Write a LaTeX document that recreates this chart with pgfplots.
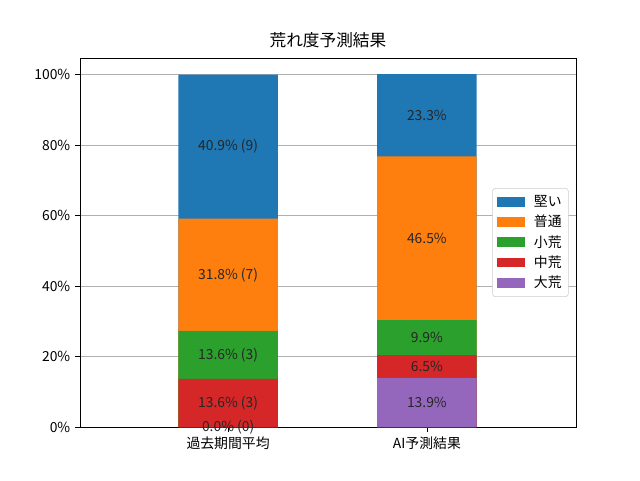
\documentclass[border=0pt]{standalone}
\usepackage{fontspec}
\setmainfont{Noto Sans CJK JP}
\usepackage{pgfplots}
\pgfplotsset{compat=1.18}
\usepackage{pgfplotstable}
\definecolor{tblue}{HTML}{1F77B4}
\definecolor{torange}{HTML}{FF7F0E}
\definecolor{tgreen}{HTML}{2CA02C}
\definecolor{tred}{HTML}{D62728}
\definecolor{tpurple}{HTML}{9467BD}
\definecolor{gridgray}{HTML}{B0B0B0}
% cumulative tops of each segment (segment values: see labels)
\pgfplotstableread{
x  katai  futsu  sho  chu  dai
0  100.0  59.09  27.27 13.64 0.0
1  100.1  76.8   30.3  20.4  13.9
}\cumdata
\pgfplotstableread{
x y label
0 79.55 {40.9\% (9)}
0 43.18 {31.8\% (7)}
0 20.45 {13.6\% (3)}
0 6.82  {13.6\% (3)}
0 0.0   {0.0\% (0)}
1 88.45 {23.3\%}
1 53.55 {46.5\%}
1 25.35 {9.9\%}
1 17.15 {6.5\%}
1 6.95  {13.9\%}
}\labeldata
\begin{document}
\fontsize{10.4}{12}\selectfont
\begin{tikzpicture}
\useasboundingbox (-60pt,-39.75pt) rectangle (420pt,320.25pt);
\begin{axis}[
  at={(0,0)}, anchor=south west,
  scale only axis, width=372pt, height=276.75pt,
  xmin=-0.745, xmax=1.75, ymin=0, ymax=104.7,
  xtick={0,1}, xticklabels={過去期間平均, AI予測結果},
  ytick={0,20,40,60,80,100},
  yticklabel={\pgfmathprintnumber{\tick}\%},
  /pgf/number format/assume math mode=true,
  tick align=outside, tick pos=left,
  major tick length=3.65pt,
  tick style={black, line width=0.6pt},
  axis line style={line width=0.6pt},
  ymajorgrids, major grid style={gridgray, line width=0.6pt},
  axis on top=false,
  title={\fontsize{12.5}{14}\selectfont 荒れ度予測結果},
  title style={yshift=-2pt},
  tick label style={font=\fontsize{10.4}{12}\selectfont},
  legend style={at={(0.985,0.5)}, anchor=east, draw=gray!40, rounded corners=2pt,
    font=\fontsize{10.4}{12}\selectfont, row sep=1pt, column sep=5pt, inner sep=3pt},
  legend cell align=left,
  legend image code/.code={\fill[#1, sharp corners] (0pt,-3.6pt) rectangle (21pt,3.6pt);},
]
\addplot[ybar, bar width=74.5pt, bar shift=0pt, fill=tblue, draw=none] table[x=x,y=katai] {\cumdata};
\addlegendentry{堅い}
\addplot[ybar, bar width=74.5pt, bar shift=0pt, fill=torange, draw=none] table[x=x,y=futsu] {\cumdata};
\addlegendentry{普通}
\addplot[ybar, bar width=74.5pt, bar shift=0pt, fill=tgreen, draw=none] table[x=x,y=sho] {\cumdata};
\addlegendentry{小荒}
\addplot[ybar, bar width=74.5pt, bar shift=0pt, fill=tred, draw=none] table[x=x,y=chu] {\cumdata};
\addlegendentry{中荒}
\addplot[ybar, bar width=74.5pt, bar shift=0pt, fill=tpurple, draw=none] table[x=x,y=dai] {\cumdata};
\addlegendentry{大荒}
\addplot[draw=none, mark=none, forget plot, clip=false,
  nodes near coords, point meta=explicit symbolic,
  every node near coord/.style={anchor=center, text=black!85, font=\fontsize{10.4}{12}\selectfont}]
  table[x=x, y=y, meta=label] {\labeldata};
\end{axis}
\end{tikzpicture}
\end{document}
